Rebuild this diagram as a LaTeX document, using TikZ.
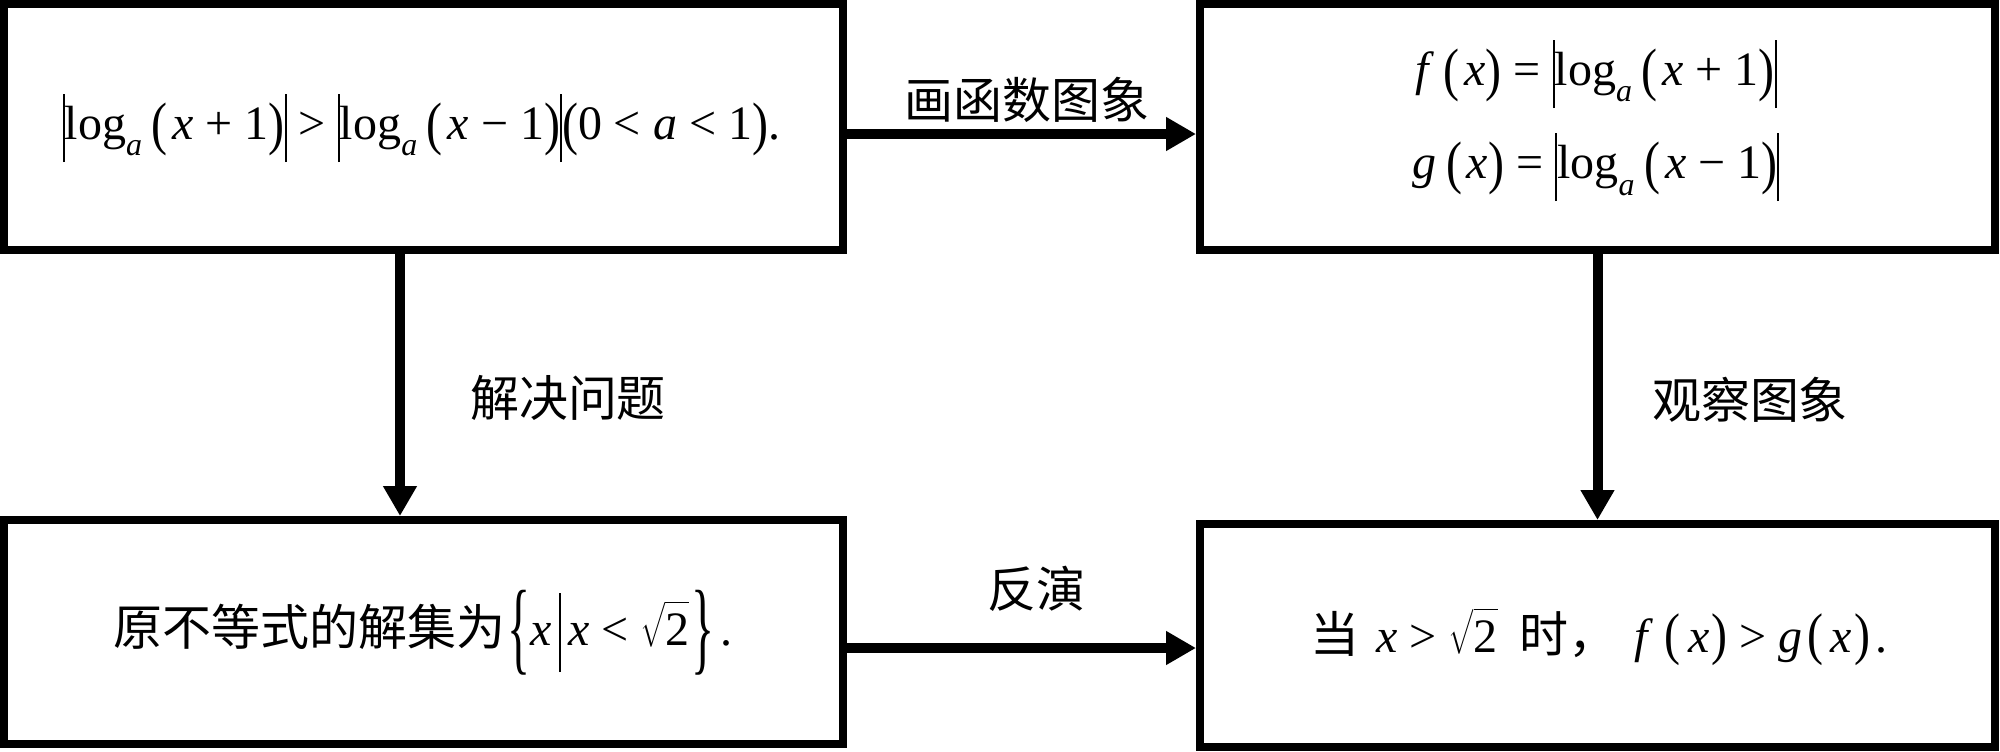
\documentclass[tikz,border=0pt]{standalone}
\usepackage{amsmath}
\usepackage{fontspec}
\usepackage{graphicx}
\setmainfont{Liberation Serif}
\newfontfamily\cjk[Scale=1.02]{Noto Sans CJK SC}
\usetikzlibrary{arrows.meta}
\newsavebox\dlbox
% #1 glyph, #2 total height (pt), #3 depth below baseline (pt)
\newcommand{\dl}[3]{\sbox\dlbox{#1}\raisebox{-#3pt}{\resizebox*{\wd\dlbox}{#2pt}{\raisebox{\dp\dlbox}{\usebox\dlbox}}}}
\newcommand{\vb}[2]{\rule[-#2pt]{2pt}{#1pt}}
\newcommand{\Lp}{\dl{(}{53}{17}}
\newcommand{\Rp}{\dl{)}{53}{17}}
\newcommand{\Vb}{\vb{68}{23}}
\newcommand{\subsc}[1]{\raisebox{-17pt}{\fontsize{32}{32}\selectfont\itshape #1}}
\newcommand{\loga}{log\subsc{a}}
\newcommand{\op}[1]{\hspace{0.25em}#1\hspace{0.25em}}
\newcommand{\vx}{\textit{x}}
\newcommand{\sqtwo}{$\sqrt{\rule{0pt}{38pt}\hbox{2}}$}
\tikzset{
  box/.style={draw, line width=8pt, rectangle, inner sep=0pt},
  arr/.style={line width=10pt, -{Triangle[length=30pt,width=32pt]}},
  txt/.style={inner sep=0pt, anchor=base, font=\fontsize{48}{58}\selectfont},
  lbl/.style={inner sep=0pt, anchor=base, font=\cjk\fontsize{48}{58}\selectfont}
}
\begin{document}
\begin{tikzpicture}[x=1pt,y=-1pt]
\useasboundingbox (0,0) rectangle (2000,752);
\node[box, minimum width=839pt, minimum height=246pt] (A) at (423.5,127) {};
\node[box, minimum width=795pt, minimum height=246pt] (B) at (1597.5,127) {};
\node[box, minimum width=839pt, minimum height=224pt] (C) at (423.5,632) {};
\node[box, minimum width=795pt, minimum height=223pt] (D) at (1597.5,635.5) {};
\node[txt] (At) at (421.5,139) {\Vb\loga\hspace{0.2em}\Lp\hspace{0.1em}\vx\op{+}1\Rp\Vb\op{>}\Vb\loga\hspace{0.2em}\Lp\hspace{0.1em}\vx\op{−}1\Rp\Vb\Lp0\op{<}\textit{a}\op{<}1\Rp.};
\node[txt] (Bt1) at (1596,85) {\textit{f}\hspace{0.2em}\Lp\hspace{0.1em}\vx\Rp\op{=}\Vb\loga\hspace{0.2em}\Lp\hspace{0.1em}\vx\op{+}1\Rp\Vb};
\node[txt] (Bt2) at (1596,178) {\textit{g}\hspace{0.2em}\Lp\hspace{0.1em}\vx\Rp\op{=}\Vb\loga\hspace{0.2em}\Lp\hspace{0.1em}\vx\op{−}1\Rp\Vb};
\node[txt] (Ct) at (423,645) {{\cjk 原不等式的解集为}\hspace{0.05em}\dl{\{}{85}{30}\vx\hspace{0.15em}\vb{79}{27}\hspace{0.15em}\vx\op{<}\sqtwo\hspace{0.05em}\dl{\}}{85}{30}\hspace{0.12em}.};
\node[txt] (Dt) at (1599,652) {{\cjk 当}\hspace{0.35em}\vx\op{>}\sqtwo\hspace{0.45em}{\cjk 时，}\hspace{0.35em}\textit{f}\hspace{0.25em}\dl{(}{52}{14}\hspace{0.15em}\vx\hspace{0.05em}\dl{)}{52}{14}\op{>}\textit{g}\hspace{0.1em}\dl{(}{52}{14}\hspace{0.15em}\vx\hspace{0.05em}\dl{)}{52}{14}\hspace{0.1em}.};
\draw[arr] (A.east |- 0,134) -- (B.west |- 0,134);
\draw[arr] (A.south -| 400,0) -- (C.north -| 400,0);
\draw[arr] (B.south) -- (D.north);
\draw[arr] (C.east |- 0,648) -- (D.west |- 0,648);
\node[lbl] (L1) at (1027,118) {画函数图象};
\node[lbl] (L2) at (568,416) {解决问题};
\node[lbl] (L3) at (1750,418) {观察图象};
\node[lbl] (L4) at (1036,607) {反演};
\end{tikzpicture}
\end{document}
